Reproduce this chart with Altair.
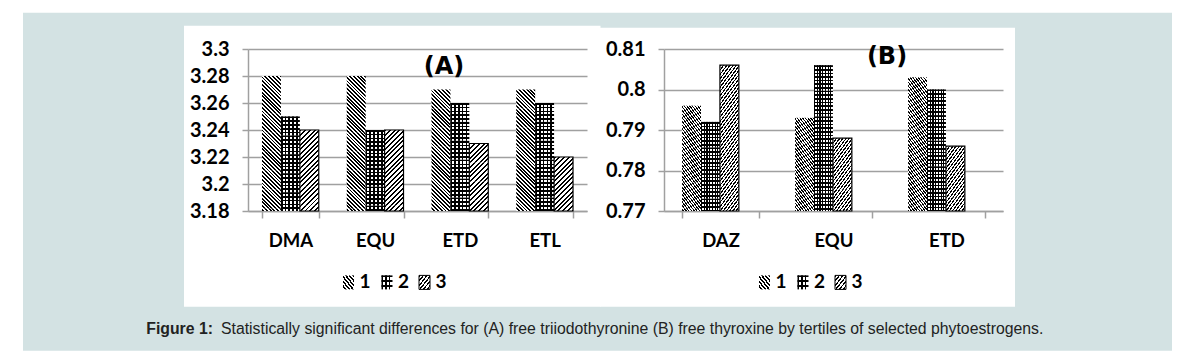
import altair as alt
import pandas as pd

# ---------------- data ----------------
cats_a = ["DMA", "EQU", "ETD", "ETL"]
t1_a = [3.28, 3.28, 3.27, 3.27]
t2_a = [3.25, 3.24, 3.26, 3.26]
t3_a = [3.24, 3.24, 3.23, 3.22]
ticks_a = [3.18, 3.2, 3.22, 3.24, 3.26, 3.28, 3.3]

cats_b = ["DAZ", "EQU", "ETD"]
t1_b = [0.796, 0.793, 0.803]
t2_b = [0.792, 0.806, 0.800]
t3_b = [0.806, 0.788, 0.786]
ticks_b = [0.77, 0.78, 0.79, 0.8, 0.81]

tertiles = ["1", "2", "3"]
panel_labels = ["(A)", "(B)"]
caption_bold = "Figure 1:"
caption_text = ("Statistically significant differences for (A) free triiodothyronine "
                "(B) free thyroxine by tertiles of selected phytoestrogens.")

# ---------------- styles ----------------
BG = "#d3e2e3"
GRID = "#a0a0a0"
LABEL_FONT = "Lato"
W, H = 339, 162
SPACING = 77
CLEAR = "rgba(255,255,255,0)"


def long_df(cats, s1, s2, s3):
    rows = []
    for t, s in zip(tertiles, [s1, s2, s3]):
        for c, v in zip(cats, s):
            rows.append({"cat": c, "tertile": t, "value": v})
    return pd.DataFrame(rows)


def stripes(n, frac, x1, y1, x2, y2, light="white"):
    stops = []
    for i in range(n):
        a, b, c = i / n, (i + frac) / n, (i + 1) / n
        stops += [(a, "black"), (b, "black"), (b, light), (min(c, 1.0), light)]
    return alt.LinearGradient(
        gradient="linear",
        stops=[alt.GradientStop(offset=o, color=col) for o, col in stops],
        x1=x1, y1=y1, x2=x2, y2=y2,
    )


one = pd.DataFrame({"k": [0]})


def legend_layers(pats, ly):
    centers = [100.5, 139, 176.5]
    layers = []
    for k, t in enumerate(tertiles):
        cx = centers[k]
        enc = dict(x=alt.value(cx - 5.5), x2=alt.value(cx + 5.5),
                   y=alt.value(ly - 7), y2=alt.value(ly + 7))
        for p in pats[k]:
            layers.append(alt.Chart(one).mark_rect(fill=p, opacity=1).encode(**enc))
        if k == 2:
            layers.append(alt.Chart(one).mark_rect(fillOpacity=0, stroke="black", strokeWidth=1).encode(**enc))
        layers.append(alt.Chart(one).mark_text(
            text=t, font=LABEL_FONT, fontWeight="bold", fontSize=19, color="black",
            align="left", baseline="middle").encode(x=alt.value(cx + 11), y=alt.value(ly)))
    return layers


def panel(df, cats, ticks, fmt, pad_inner, pad_outer, label, lx, ly):
    ymin, ymax = ticks[0], ticks[-1]
    n = len(cats)
    band = W / (n - pad_inner + 2 * pad_outer)
    bar_w = band * (1 - pad_inner) / 3
    step = bar_w * (ymax - ymin) / H  # square tiles
    diag = bar_w * 2 ** 0.5
    N1 = 2 * max(1, round(diag / 2.7 / 2))
    N3 = 2 * max(1, round(diag / 3.0 / 2))
    M = max(2, round(bar_w / 3.8))

    p1 = stripes(N1, 0.5, 1, 0, 0, 1)
    p2v = stripes(M, 0.45, 0, 0, 1, 0)
    p2h = stripes(M, 0.45, 0, 0, 0, 1, light=CLEAR)
    p3 = stripes(N3, 0.42, 0, 0, 1, 1)

    yscale = alt.Scale(domain=[ymin, ymax], nice=False, zero=False)
    yaxis = alt.Axis(values=ticks, format=fmt, title=None, grid=True, gridColor=GRID, gridWidth=1.5,
                     domainColor=GRID, domainWidth=1.5, tickColor=GRID, tickWidth=1.5, tickSize=6,
                     labelFont=LABEL_FONT, labelFontWeight="bold", labelFontSize=20, labelColor="black",
                     labelPadding=13)
    x = alt.X("cat:N", sort=cats,
              scale=alt.Scale(domain=cats, paddingInner=pad_inner, paddingOuter=pad_outer),
              axis=alt.Axis(title=None, labelAngle=0, labelFont=LABEL_FONT, labelFontWeight="bold",
                            labelFontSize=18.5, labelColor="black", labelPadding=13,
                            domainColor=GRID, domainWidth=1.5, tickColor=GRID, tickWidth=1.5,
                            tickSize=7, tickBand="extent", grid=False))
    xo = alt.XOffset("tertile:N", scale=alt.Scale(domain=tertiles, paddingInner=0, paddingOuter=0))

    base = alt.Chart(df)

    def tiles(t):
        return (base.transform_filter(alt.datum.tertile == t)
                .transform_calculate(n=f"ceil((datum.value - {ymin}) / {step} - 1e-6)")
                .transform_calculate(k="sequence(0, datum.n)")
                .transform_flatten(["k"])
                .transform_calculate(top=f"datum.value - datum.k * {step}",
                                     bot=f"datum.value - (datum.k + 1) * {step}"))

    enc_t = dict(x=x, xOffset=xo, y=alt.Y("top:Q", scale=yscale, axis=yaxis), y2=alt.Y2("bot:Q"))
    layers = [
        tiles("1").mark_bar(fill=p1, opacity=1, clip=True).encode(**enc_t),
        tiles("2").mark_bar(fill=p2v, opacity=1, clip=True).encode(**enc_t),
        tiles("2").mark_bar(fill=p2h, opacity=1, clip=True).encode(**enc_t),
        tiles("3").mark_bar(fill=p3, opacity=1, clip=True).encode(**enc_t),
        base.transform_filter(alt.datum.tertile == "3").mark_bar(
            fillOpacity=0, stroke="black", strokeWidth=1.2).encode(
            x=x, xOffset=xo, y=alt.Y("value:Q", scale=yscale, axis=yaxis), y2=alt.datum(ymin)),
        alt.Chart(one).mark_text(text=label, font="DejaVu Sans", fontWeight="bold", fontSize=24,
                                 color="black", align="center", baseline="middle").encode(
            x=alt.value(lx), y=alt.value(ly)),
    ]
    # legend patterns (smaller symbol, fewer stripes)
    lp1 = stripes(6, 0.5, 1, 0, 0, 1)
    lp2v = stripes(3, 0.45, 0, 0, 1, 0)
    lp2h = stripes(3, 0.45, 0, 0, 0, 1, light=CLEAR)
    lp3 = stripes(6, 0.42, 0, 0, 1, 1)
    pats = [[lp1], [lp2v, lp2h], [lp3]]
    layers += legend_layers(pats, 233.4)
    return alt.layer(*layers).properties(width=W, height=H)


panel_a = panel(long_df(cats_a, t1_a, t2_a, t3_a), cats_a, ticks_a, ".2~f", 0.33, 0.165,
                panel_labels[0], 196, 18.4)
panel_b = panel(long_df(cats_b, t1_b, t2_b, t3_b), cats_b, ticks_b, ".3~f", 0.32, 0.16,
                panel_labels[1], 223, 8.4)

# background view (first in the row, drawn beneath the panels)
bg = alt.layer(
    alt.Chart(one).mark_rect(color=BG, opacity=1).encode(
        x=alt.value(-147), x2=alt.value(1002), y=alt.value(-36.3), y2=alt.value(301.7)),
    alt.Chart(one).mark_rect(color="white", opacity=1).encode(
        x=alt.value(14), x2=alt.value(430.5), y=alt.value(-23.3), y2=alt.value(257.7)),
    alt.Chart(one).mark_rect(color="white", opacity=1).encode(
        x=alt.value(430), x2=alt.value(845), y=alt.value(-21.3), y2=alt.value(257.7)),
    alt.Chart(one).mark_text(text=caption_bold, font="Liberation Sans", fontWeight="bold",
                             fontSize=15.8, color="#222222", align="right", baseline="middle").encode(
        x=alt.value(43), y=alt.value(279.5)),
    alt.Chart(one).mark_text(text=caption_text, font="Liberation Sans", fontSize=15.8,
                             color="#222222", align="left", baseline="middle").encode(
        x=alt.value(51), y=alt.value(279.5)),
).properties(width=1, height=H)

chart = (alt.hconcat(bg, panel_a, panel_b, spacing=SPACING, bounds="flush")
         .properties(padding={"left": 15, "top": 4, "right": 0, "bottom": 0}, background="white")
         .configure_view(strokeWidth=0))

chart.save("out.html", embed_options={"renderer": "svg", "actions": False})
